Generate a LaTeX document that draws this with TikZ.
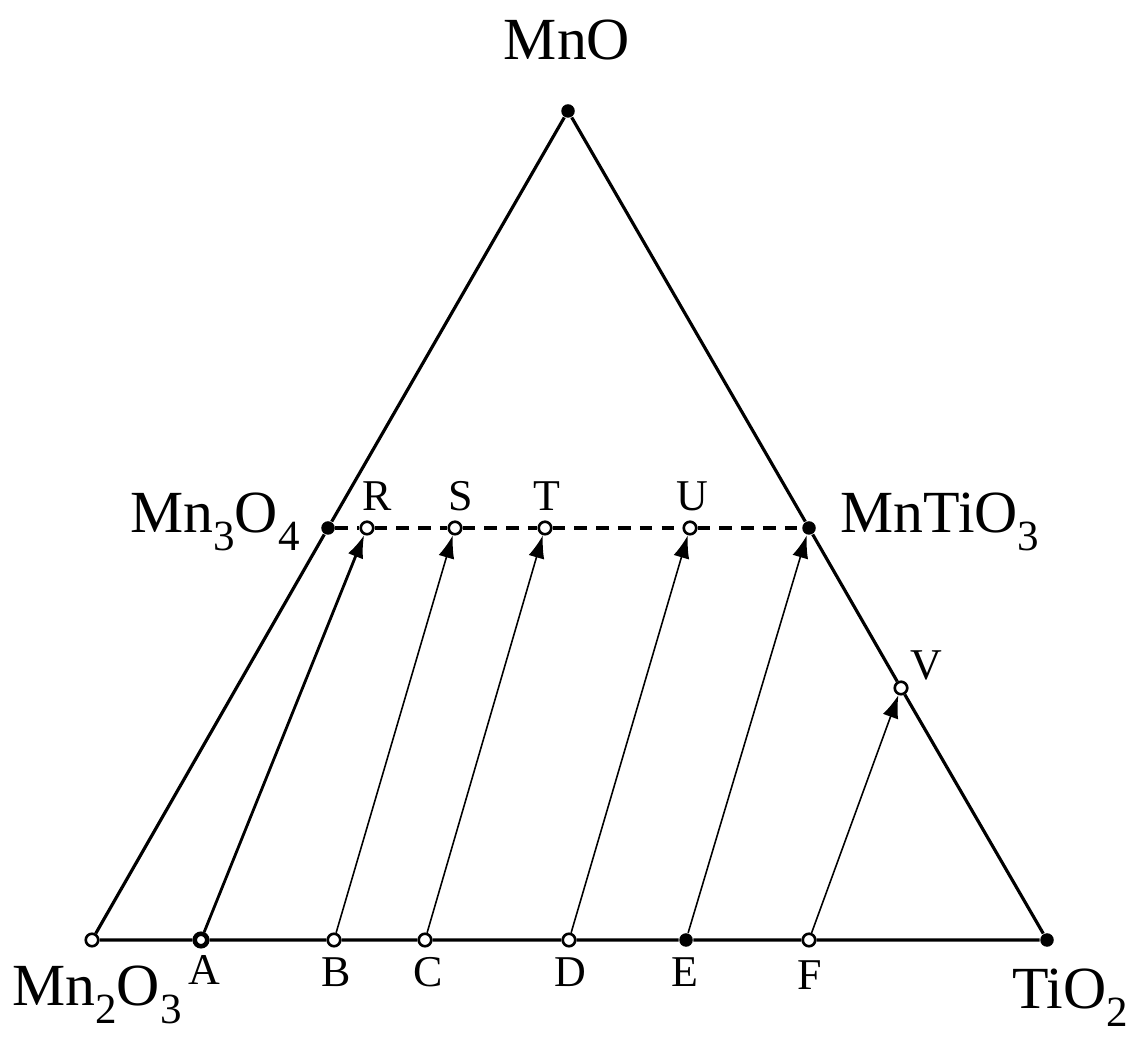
\documentclass[tikz,border=0pt]{standalone}
\usepackage{fontspec}
\setmainfont{Liberation Serif}
\usetikzlibrary{arrows.meta}
\newcommand{\low}[1]{\raisebox{-0.3em}{\scalebox{0.72}{#1}}}

\tikzset{
  fulldot/.style={circle,fill=black,inner sep=0pt,minimum size=0.135cm},
  opendot/.style={circle,draw=black,fill=white,line width=0.75pt,inner sep=0pt,minimum size=0.125cm},
  cmpd/.style={font=\fontsize{17}{20}\selectfont},
  lett/.style={font=\fontsize{12.5}{14}\selectfont},
  edge/.style={line width=0.9pt},
  path/.style={line width=0.45pt,-{Latex[length=6.5pt,width=4.6pt]}},
}

\begin{document}
\begin{tikzpicture}[x=0.01cm,y=-0.01cm]
  \useasboundingbox(0,0)rectangle(1133,1037);
  \node[fulldot](MnO)at(568,111){};
  \node[opendot](Mn2O3)at(92,940){};
  \node[fulldot](TiO2)at(1047,940){};
  \node[fulldot](Mn3O4)at(328,528){};
  \node[fulldot](MnTiO3)at(809,528){};
  \node[opendot](R)at(367,528){};
  \node[opendot](S)at(455,528){};
  \node[opendot](T)at(545,528){};
  \node[opendot](U)at(690,528){};
  \node[opendot](V)at(901,688){};
  \node[opendot,line width=1.3pt](A)at(201,940){};
  \node[opendot](B)at(334,940){};
  \node[opendot](C)at(425,940){};
  \node[opendot](D)at(569,940){};
  \node[fulldot](E)at(686,940){};
  \node[opendot](F)at(809,940){};
  \draw[edge](MnO)--(Mn3O4)--(Mn2O3)--(A)--(B)--(C)--(D)--(E)--(F)--(TiO2)--(V)--(MnTiO3)--(MnO);
  \draw[edge,dash pattern=on 3.6pt off 2.6pt](Mn3O4)--(R)--(S)--(T)--(U)--(MnTiO3);
  \draw[path,line width=0.8pt](A)--(R);
  \draw[path](B)--(S);
  \draw[path](C)--(T);
  \draw[path](D)--(U);
  \draw[path](E)--(MnTiO3);
  \draw[path](F)--(V);
  \node[cmpd](lMnO)at(567,40){MnO};
  \node[cmpd](lMn3O4)at(215,522){Mn\low{3}O\low{4}};
  \node[cmpd](lMnTiO3)at(940,522){MnTiO\low{3}};
  \node[cmpd](lMn2O3)at(97,995){Mn\low{2}O\low{3}};
  \node[cmpd](lTiO2)at(1070,998){TiO\low{2}};
  \node[lett](lR)at(377,496){R};
  \node[lett](lS)at(461,496){S};
  \node[lett](lT)at(547,496){T};
  \node[lett](lU)at(692,496){U};
  \node[lett](lV)at(926,665){V};
  \node[lett](lA)at(204,970){A};
  \node[lett](lB)at(336,972){B};
  \node[lett](lC)at(428,972){C};
  \node[lett](lD)at(570,972){D};
  \node[lett](lE)at(685,972){E};
  \node[lett](lF)at(810,975){F};
\end{tikzpicture}
\end{document}
